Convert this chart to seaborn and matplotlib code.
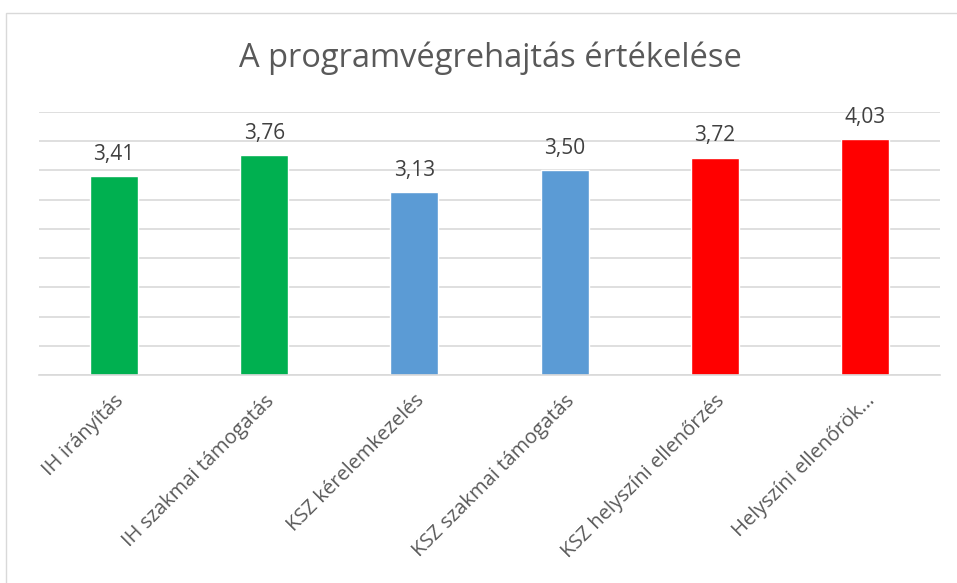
import matplotlib
matplotlib.use("Agg")
import matplotlib.pyplot as plt
import seaborn as sns
import pandas as pd
from matplotlib.patches import Rectangle

# adatok
categories = ["IH irányítás", "IH szakmai támogatás", "KSZ kérelemkezelés",
              "KSZ szakmai támogatás", "KSZ helyszíni ellenőrzés", "Helyszíni ellenőrök..."]
values = [3.41, 3.76, 3.13, 3.50, 3.72, 4.03]
colors = ["#00B050", "#00B050", "#5B9BD5", "#5B9BD5", "#FF0000", "#FF0000"]

df = pd.DataFrame({"cat": categories, "val": values})

sns.set_style("white")
plt.rcParams["font.family"] = ["Open Sans", "DejaVu Sans"]

fig = plt.figure(figsize=(9.57, 5.83), dpi=100)
ax = fig.add_axes([39 / 957, 1 - 375 / 583, 901 / 957, 263 / 583])

sns.barplot(data=df, x="cat", y="val", hue="cat", palette=colors,
            width=0.32, legend=False, ax=ax, saturation=1)

ax.set_ylim(0, 4.5)
ax.set_yticks([i * 0.5 for i in range(10)])
ax.yaxis.grid(True, color="#D9D9D9", linewidth=1.2)
ax.set_axisbelow(True)
ax.tick_params(axis="y", left=False, labelleft=False)
ax.tick_params(axis="x", bottom=False, pad=8, labelsize=14.5, labelcolor="#595959")
for s in ["top", "right", "left"]:
    ax.spines[s].set_visible(False)
ax.spines["bottom"].set_color("#D9D9D9")
ax.spines["bottom"].set_linewidth(1.2)
ax.set_xlabel("")
ax.set_ylabel("")

plt.setp(ax.get_xticklabels(), rotation=45, ha="right", rotation_mode="anchor")

for i, v in enumerate(values):
    ax.annotate(f"{v:.2f}".replace(".", ","), (i, v), xytext=(0, 8),
                textcoords="offset points", ha="center", va="bottom",
                fontsize=15, color="#404040")

fig.text(490 / 957, 1 - 58 / 583, "A programvégrehajtás értékelése",
         ha="center", va="center", fontsize=23.5, color="#595959")

fig.patches.append(Rectangle((6 / 957, -0.1), 1.2, 1.1 - 13 / 583,
                             transform=fig.transFigure, fill=False,
                             edgecolor="#D9D9D9", linewidth=1))

fig.savefig("out.png", dpi=100)
